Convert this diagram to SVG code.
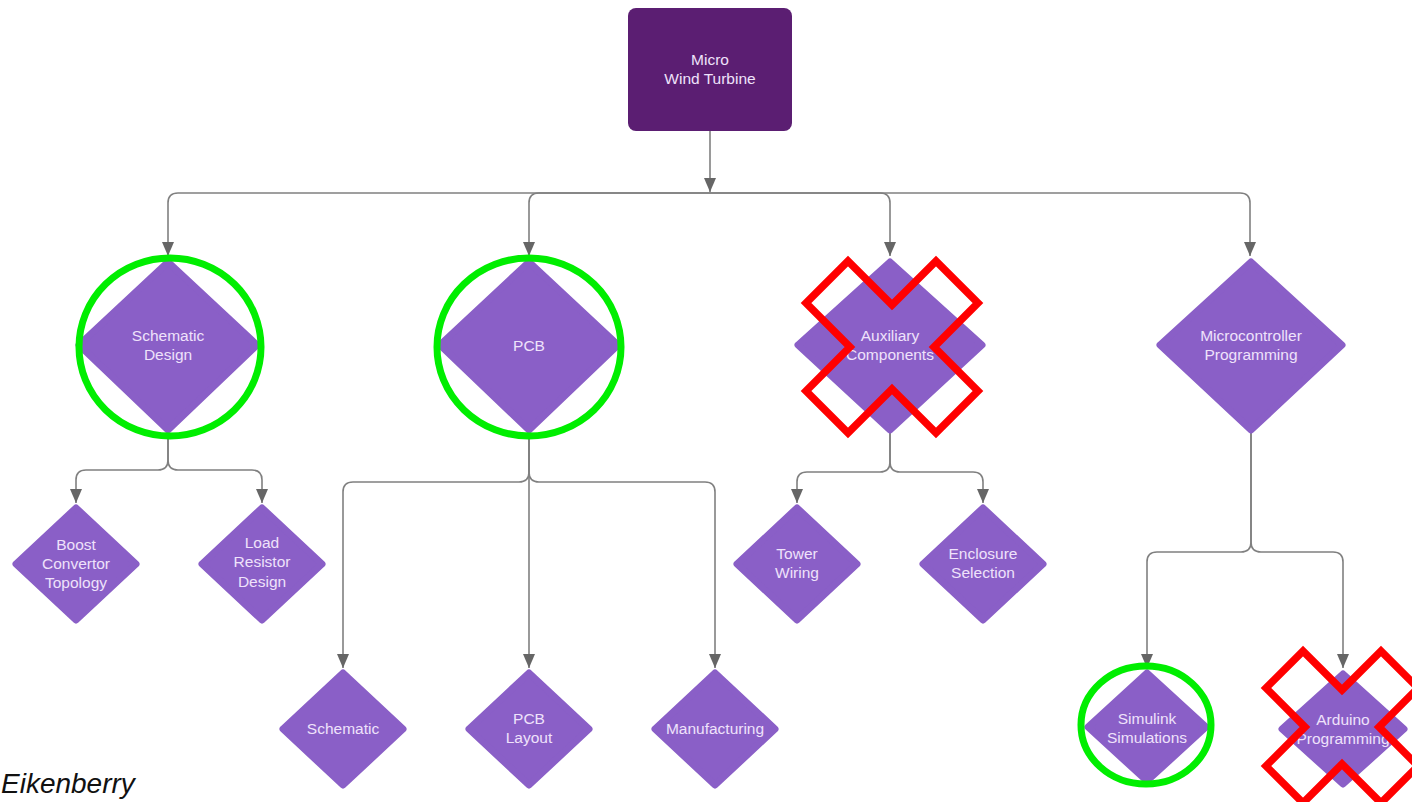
<svg xmlns="http://www.w3.org/2000/svg" width="1412" height="802" viewBox="0 0 1412 802">
<defs>
<marker id="arr" viewBox="0 0 14 12" refX="14" refY="6" markerWidth="14" markerHeight="12" markerUnits="userSpaceOnUse" orient="auto">
<path d="M0,0 L14,6 L0,12 z" fill="#666666"/>
</marker>
<style>
.dia{fill:#8a5fc7;stroke:#8a5fc7;stroke-width:7;stroke-linejoin:round}
.box{fill:#5b1e72}
.lbl{font-family:"Liberation Sans",Arial,sans-serif;font-size:15.5px;fill:#efe2fb;text-anchor:middle}
.con{fill:none;stroke:#808080;stroke-width:1.6}
.ok{fill:none;stroke:#00ee00;stroke-width:7}
.no{fill:none;stroke:#ff0000;stroke-width:7.5;stroke-linejoin:miter}
</style>
</defs>
<rect width="1412" height="802" fill="#ffffff"/>

<g id="connectors">
<path class="con" d="M710,131 V192" marker-end="url(#arr)"/>
<path class="con" d="M710,193 H178 Q168,193 168,203 V256" marker-end="url(#arr)"/>
<path class="con" d="M710,193 H539 Q529,193 529,203 V256" marker-end="url(#arr)"/>
<path class="con" d="M710,193 H880 Q890,193 890,203 V256" marker-end="url(#arr)"/>
<path class="con" d="M710,193 H1240 Q1250,193 1250,203 V256" marker-end="url(#arr)"/>
<path class="con" d="M168,432 V460 Q168,470 158,470 H86 Q76,470 76,480 V503" marker-end="url(#arr)"/>
<path class="con" d="M168,432 V460 Q168,470 178,470 H252 Q262,470 262,480 V503" marker-end="url(#arr)"/>
<path class="con" d="M529,432 V472 Q529,482 519,482 H353 Q343,482 343,492 V668" marker-end="url(#arr)"/>
<path class="con" d="M529,432 V668" marker-end="url(#arr)"/>
<path class="con" d="M529,432 V472 Q529,482 539,482 H705 Q715,482 715,492 V668" marker-end="url(#arr)"/>
<path class="con" d="M890,432 V462 Q890,472 880,472 H807 Q797,472 797,482 V503" marker-end="url(#arr)"/>
<path class="con" d="M890,432 V462 Q890,472 900,472 H973 Q983,472 983,482 V503" marker-end="url(#arr)"/>
<path class="con" d="M1251,432 V542 Q1251,552 1241,552 H1157 Q1147,552 1147,562 V668" marker-end="url(#arr)"/>
<path class="con" d="M1251,432 V542 Q1251,552 1261,552 H1333 Q1343,552 1343,562 V668" marker-end="url(#arr)"/>
</g>

<g id="root">
<rect class="box" x="628" y="8" width="164" height="123" rx="8"/>
<text class="lbl" x="710" y="64.5">Micro</text>
<text class="lbl" x="710" y="83.5">Wind Turbine</text>
</g>

<g id="schematic-design">
<polygon class="dia" points="168,262 257,345 168,430 79,345"/>
<text class="lbl" x="168" y="340.5">Schematic</text>
<text class="lbl" x="168" y="359.5">Design</text>
</g>
<g id="pcb">
<polygon class="dia" points="529,262 618,345 529,430 440,345"/>
<text class="lbl" x="529" y="350.5">PCB</text>
</g>
<g id="auxiliary">
<polygon class="dia" points="890,262 982,345 890,430 798,345"/>
<text class="lbl" x="890" y="340.5">Auxiliary</text>
<text class="lbl" x="890" y="359.5">Components</text>
</g>
<g id="microcontroller">
<polygon class="dia" points="1251,262 1342,345 1251,430 1160,345"/>
<text class="lbl" x="1251" y="340.5">Microcontroller</text>
<text class="lbl" x="1251" y="359.5">Programming</text>
</g>

<g id="boost">
<polygon class="dia" points="76,508 136,564 76,620 16,564"/>
<text class="lbl" x="76" y="549.5">Boost</text>
<text class="lbl" x="76" y="568.5">Convertor</text>
<text class="lbl" x="76" y="587.5">Topology</text>
</g>
<g id="load-resistor">
<polygon class="dia" points="262,508 322,564 262,620 202,564"/>
<text class="lbl" x="262" y="547.5">Load</text>
<text class="lbl" x="262" y="567">Resistor</text>
<text class="lbl" x="262" y="586.5">Design</text>
</g>
<g id="tower-wiring">
<polygon class="dia" points="797,508 857,564 797,620 737,564"/>
<text class="lbl" x="797" y="558.5">Tower</text>
<text class="lbl" x="797" y="577.5">Wiring</text>
</g>
<g id="enclosure">
<polygon class="dia" points="983,508 1043,564 983,620 923,564"/>
<text class="lbl" x="983" y="558.5">Enclosure</text>
<text class="lbl" x="983" y="578">Selection</text>
</g>
<g id="schematic">
<polygon class="dia" points="343,673 403,729 343,785 283,729"/>
<text class="lbl" x="343" y="733.5">Schematic</text>
</g>
<g id="pcb-layout">
<polygon class="dia" points="529,673 589,729 529,785 469,729"/>
<text class="lbl" x="529" y="723.5">PCB</text>
<text class="lbl" x="529" y="742.5">Layout</text>
</g>
<g id="manufacturing">
<polygon class="dia" points="715,673 775,729 715,785 655,729"/>
<text class="lbl" x="715" y="733.5">Manufacturing</text>
</g>
<g id="simulink">
<polygon class="dia" points="1147,673 1206,727 1147,781 1088,727"/>
<text class="lbl" x="1147" y="723.5">Simulink</text>
<text class="lbl" x="1147" y="743">Simulations</text>
</g>
<g id="arduino">
<polygon class="dia" points="1343,674 1404,729 1343,784 1282,729"/>
<text class="lbl" x="1343" y="724.5">Arduino</text>
<text class="lbl" x="1343" y="744">Programming</text>
</g>

<g id="marks">
<ellipse class="ok" cx="170" cy="347" rx="91" ry="89"/>
<ellipse class="ok" cx="529" cy="347" rx="92" ry="89"/>
<ellipse class="ok" cx="1146" cy="725" rx="65" ry="59"/>
<polygon class="no" transform="translate(892,347)" points="0,-42 44,-86 86,-44 42,0 86,44 44,86 0,42 -44,86 -86,44 -42,0 -86,-44 -44,-86"/>
<polygon class="no" transform="translate(1342,727)" points="0,-37 39,-76 76,-39 37,0 76,39 39,76 0,37 -39,76 -76,39 -37,0 -76,-39 -39,-76"/>
</g>

<text x="1" y="793" font-family="Liberation Sans, Arial, sans-serif" font-style="italic" font-size="28" fill="#111111">Eikenberry</text>
</svg>
